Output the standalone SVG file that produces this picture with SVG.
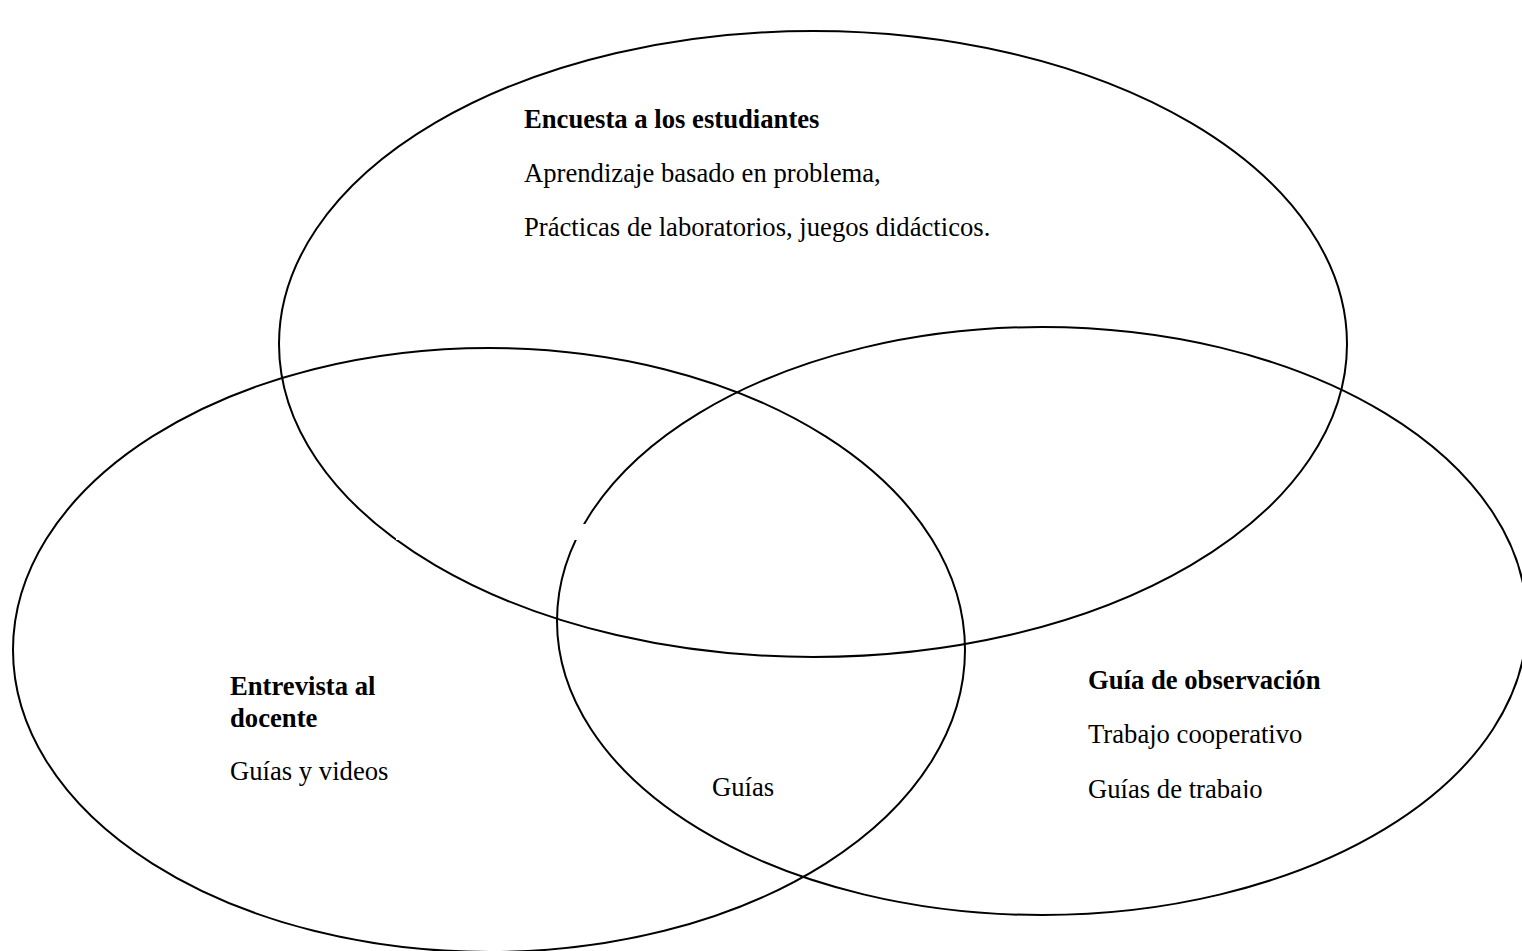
<svg xmlns="http://www.w3.org/2000/svg" width="1522" height="951" viewBox="0 0 1522 951">
<style>
.ring{fill:none;stroke:#000;stroke-width:2}
.t{font-family:"Liberation Serif","Times New Roman",serif;font-size:26.67px;fill:#000}
.b{font-weight:bold}
</style>
<defs>
<clipPath id="clipG"><rect x="1080" y="650" width="320" height="148"/></clipPath>
</defs>
<rect width="1522" height="951" fill="#fff"/>
<g id="connectors"></g>
<g id="encuesta">
<ellipse class="ring" cx="813" cy="344" rx="534" ry="313"/>
</g>
<g id="entrevista">
<ellipse class="ring" cx="489" cy="650" rx="476" ry="302"/>
</g>
<g id="guia-observacion">
<ellipse class="ring" cx="1042" cy="621" rx="485" ry="294"/>
</g>
<rect x="396" y="524" width="190" height="16" fill="#fff"/>
<g id="encuesta-text">
<text class="t b" x="524" y="128">Encuesta a los estudiantes</text>
<text class="t" x="524" y="182">Aprendizaje basado en problema,</text>
<text class="t" x="524" y="236">Prácticas de laboratorios, juegos didácticos.</text>
</g>
<g id="entrevista-text">
<text class="t b" x="230" y="695">Entrevista al</text>
<text class="t b" x="230" y="727">docente</text>
<text class="t" x="230" y="780">Guías y videos</text>
</g>
<g id="centro-text">
<text class="t" x="712" y="796">Guías</text>
</g>
<g id="guia-text">
<text class="t b" x="1088" y="689">Guía de observación</text>
<text class="t" x="1088" y="743">Trabajo cooperativo</text>
<text class="t" x="1088" y="798" clip-path="url(#clipG)">Guías de trabajo</text>
</g>
</svg>
